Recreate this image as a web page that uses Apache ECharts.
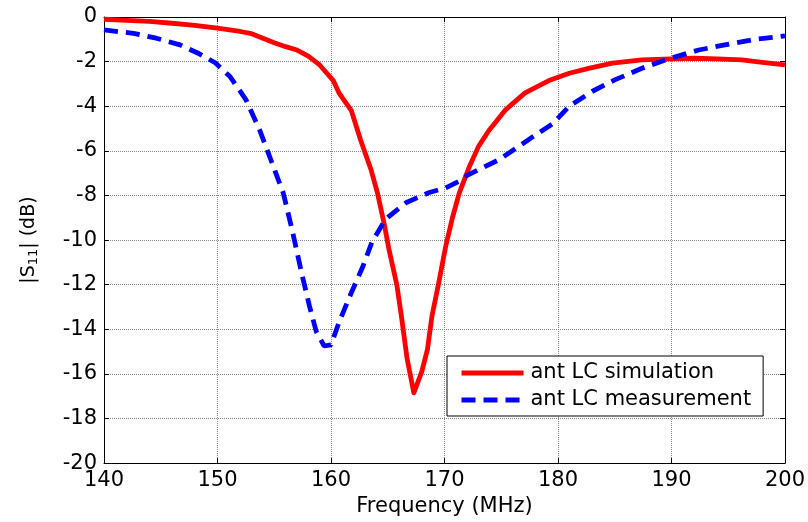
<!DOCTYPE html>
<html>
<head>
<meta charset="utf-8">
<script src="https://cdn.jsdelivr.net/npm/echarts@6/dist/echarts.min.js"></script>
<style>html,body{margin:0;padding:0;background:#fff;}#chart{width:808px;height:522px;}</style>
</head>
<body>
<div id="chart"></div>
<script>
// Simulation (red, solid)
const simFreq = [140, 142, 144, 146, 148, 150, 152, 153, 154, 155, 156, 157, 158, 159, 159.6, 160.2, 160.7, 161.8, 162.6, 163.5, 164.1, 164.7, 165.1, 165.8, 166.2, 166.7, 167.3, 168.0, 168.5, 168.9, 169.5, 170.1, 170.7, 171.3, 172.2, 173.0, 173.9, 175.4, 177.1, 179.2, 181, 182.7, 184.8, 187.4, 190, 192, 194, 196.2, 198, 200];
const simS11 = [-0.1, -0.15, -0.2, -0.28, -0.38, -0.5, -0.65, -0.75, -0.95, -1.15, -1.33, -1.48, -1.75, -2.15, -2.5, -2.85, -3.4, -4.2, -5.5, -6.8, -7.9, -9.3, -10.4, -12.0, -13.4, -15.3, -16.85, -15.9, -14.9, -13.4, -11.9, -10.3, -9.0, -7.9, -6.7, -5.8, -5.1, -4.15, -3.4, -2.85, -2.52, -2.3, -2.07, -1.92, -1.88, -1.85, -1.88, -1.92, -2.03, -2.15];
// Measurement (blue, dashed)
const measFreq = [140, 142.6, 144.6, 146.7, 148.4, 149.8, 151.1, 152.5, 153.7, 154.7, 155.8, 156.6, 157.4, 158.1, 158.7, 159.4, 160.0, 160.7, 161.8, 162.8, 163.6, 164.8, 166.6, 168.6, 170.1, 171.3, 172, 174.8, 177.4, 179.5, 181, 183, 185, 187.4, 189.9, 192.4, 194.7, 197.4, 200];
const measS11 = [-0.58, -0.73, -0.95, -1.25, -1.65, -2.05, -2.67, -3.7, -5.05, -6.4, -7.9, -9.6, -11.45, -12.95, -14.1, -14.75, -14.7, -13.7, -12.35, -11.2, -10.1, -9.07, -8.33, -7.88, -7.66, -7.36, -7.1, -6.4, -5.5, -4.8, -4.0, -3.34, -2.82, -2.3, -1.85, -1.48, -1.25, -1.0, -0.85];
const seriesNames = ['ant LC simulation', 'ant LC measurement'];
const xTitle = 'Frequency (MHz)';

const FONT = 'DejaVu Sans';
const zip = (a, b) => a.map((v, i) => [v, b[i]]);
const chart = echarts.init(document.getElementById('chart'), null, {renderer: 'canvas'});

const baseX = {type: 'value', min: 140, max: 200, interval: 10};
const baseY = {type: 'value', min: -20, max: 0, interval: 2};
const tickStyle = {show: true, inside: true, length: 5, lineStyle: {color: '#000', width: 1}};
const axisLineStyle = {show: true, onZero: false, lineStyle: {color: '#000', width: 1}};
const gridLine = {show: true, lineStyle: {color: '#888', width: 1, type: 'dotted'}};

chart.setOption({
  animation: false,
  backgroundColor: '#fff',
  textStyle: {fontFamily: FONT},
  grid: {left: 104, right: 21, top: 17, bottom: 58, containLabel: false},
  xAxis: [
    Object.assign({}, baseX, {
      position: 'bottom',
      axisLine: axisLineStyle, axisTick: tickStyle, splitLine: gridLine,
      axisLabel: {color: '#000', fontSize: 21, fontFamily: FONT, margin: 7},
      name: xTitle, nameLocation: 'middle', nameGap: 29,
      nameTextStyle: {color: '#000', fontSize: 21, fontFamily: FONT}
    }),
    Object.assign({}, baseX, {
      position: 'top',
      axisLine: axisLineStyle, axisTick: tickStyle, splitLine: {show: false},
      axisLabel: {show: false}
    })
  ],
  yAxis: [
    Object.assign({}, baseY, {
      position: 'left',
      axisLine: axisLineStyle, axisTick: tickStyle, splitLine: gridLine,
      axisLabel: {color: '#000', fontSize: 21, fontFamily: FONT, margin: 7},
      name: '{a||S}{sub|11}{a|| (dB)}', nameLocation: 'middle', nameGap: 64, nameRotate: 90,
      nameTextStyle: {
        color: '#000', fontFamily: FONT,
        rich: {
          a: {fontSize: 19, fontFamily: FONT, color: '#000', lineHeight: 22, verticalAlign: 'middle'},
          sub: {fontSize: 13, fontFamily: FONT, color: '#000', lineHeight: 13, verticalAlign: 'bottom', padding: [10, 0, 0, 0]}
        }
      }
    }),
    Object.assign({}, baseY, {
      position: 'right',
      axisLine: axisLineStyle, axisTick: tickStyle, splitLine: {show: false},
      axisLabel: {show: false}
    })
  ],
  legend: {
    orient: 'vertical',
    left: 447, top: 356,
    padding: [6, 12, 5, 12],
    itemGap: 5,
    itemWidth: 62, itemHeight: 14,
    backgroundColor: '#fff',
    borderColor: '#000', borderWidth: 1, borderRadius: 0,
    itemStyle: {opacity: 0},
    lineStyle: {width: 5, type: 'inherit'},
    textStyle: {color: '#000', fontSize: 21, fontFamily: FONT, lineHeight: 22, padding: [0, 0, 0, 2]},
    data: seriesNames
  },
  series: [
    {
      name: seriesNames[0], type: 'line', xAxisIndex: 0, yAxisIndex: 0,
      data: zip(simFreq, simS11), symbol: 'none', showSymbol: false,
      lineStyle: {color: '#ff0000', width: 4.8, join: 'round'}, itemStyle: {color: '#ff0000'}, z: 3
    },
    {
      name: seriesNames[1], type: 'line', xAxisIndex: 0, yAxisIndex: 0,
      data: zip(measFreq, measS11), symbol: 'none', showSymbol: false,
      lineStyle: {color: '#0000ff', width: 4.8, type: [14, 8], cap: 'butt'}, itemStyle: {color: '#0000ff'}, z: 4
    }
  ]
});
</script>
</body>
</html>
